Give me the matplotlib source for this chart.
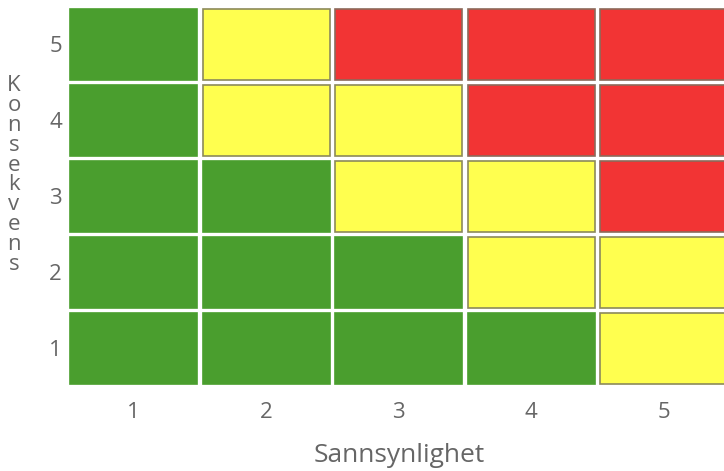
import matplotlib.pyplot as plt
from matplotlib.patches import Rectangle

sannsynlighet = [1, 2, 3, 4, 5]
konsekvens = [1, 2, 3, 4, 5]
# risk level per cell, rows = konsekvens 1..5, cols = sannsynlighet 1..5
risk = [
    ["G", "G", "G", "G", "Y"],  # 1
    ["G", "G", "G", "Y", "Y"],  # 2
    ["G", "G", "Y", "Y", "R"],  # 3
    ["G", "Y", "Y", "R", "R"],  # 4
    ["G", "Y", "R", "R", "R"],  # 5
]

fill = {"G": "#4a9e2e", "Y": "#ffff4f", "R": "#f23434"}
edge = {"G": "#4a9e2e", "Y": "#8c8a5a", "R": "#8c6a5a"}

fig = plt.figure(figsize=(7.24, 4.71), dpi=100)
ax = fig.add_axes([67.5 / 724, 84.5 / 471, 662.5 / 724, 380 / 471])

gx = 0.038
gy = 0.066
for i, k in enumerate(konsekvens):
    for j, s in enumerate(sannsynlighet):
        lvl = risk[i][j]
        ax.add_patch(Rectangle((s - 0.5 + gx / 2, k - 0.5 + gy / 2), 1 - gx, 1 - gy,
                               facecolor=fill[lvl], edgecolor=edge[lvl], linewidth=1.2))

ax.set_xlim(0.5, 5.5)
ax.set_ylim(0.5, 5.5)
for sp in ax.spines.values():
    sp.set_visible(False)

txt = "#666666"
font = "Open Sans"
ax.set_xticks(sannsynlighet)
ax.set_yticks(konsekvens)
ax.set_xticklabels([str(v) for v in sannsynlighet], fontsize=16, color=txt, family=font)
ax.set_yticklabels([str(v) for v in konsekvens], fontsize=16, color=txt, family=font)
ax.tick_params(axis="x", length=0, pad=11)
ax.tick_params(axis="y", length=0, pad=4)

fig.text(399 / 724, 1 - 455 / 471, "Sannsynlighet", ha="center", va="center",
         fontsize=19, color=txt, family=font)
fig.text(14 / 724, 1 - 175 / 471, "\n".join("Konsekvens"), ha="center", va="center",
         fontsize=16, color=txt, family=font, linespacing=0.93)

fig.savefig("out.png", dpi=100)
